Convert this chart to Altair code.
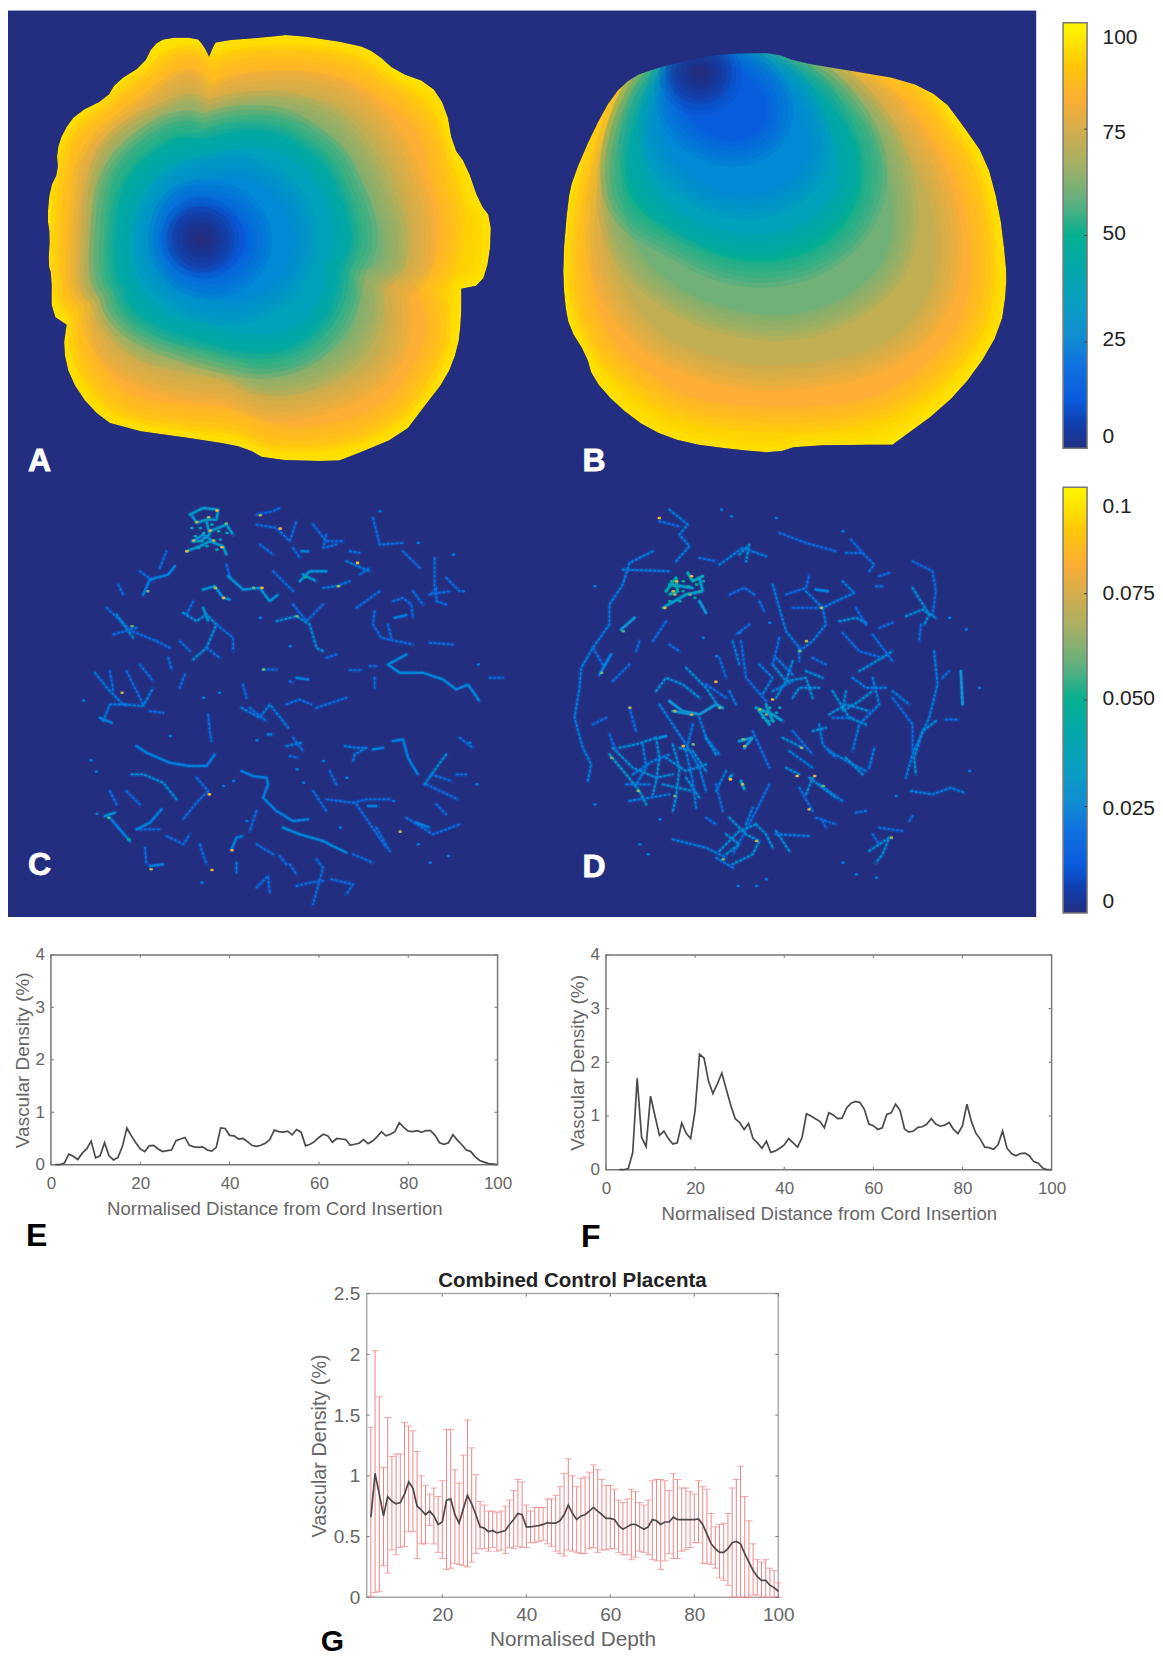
import altair as alt

# ---------- line panels: values ----------
E_X = list(range(1, 101))
E_Y = [0, 0, .03, .2, .16, .1, .22, .3, .45, .13, .17, .42, .17, .09, .14, .35, .7, .55, .42, .3,
       .25, .36, .37, .3, .25, .27, .28, .46, .49, .52, .37, .34, .33, .34, .28, .26, .33, .7, .69, .56,
       .55, .49, .5, .44, .37, .35, .37, .41, .48, .66, .63, .62, .64, .57, .67, .62, .36, .39, .44, .52,
       .58, .55, .43, .5, .49, .48, .37, .39, .41, .48, .4, .45, .53, .63, .55, .58, .63, .8, .71, .64,
       .63, .65, .62, .65, .65, .56, .42, .39, .42, .57, .47, .38, .28, .25, .15, .08, .05, .02, .01, 0]
F_X = list(range(3, 101))
F_Y = [0, 0, .02, .32, 1.7, .6, .43, 1.37, 1.0, .64, .72, .58, .48, .5, .87, .68, .58, 1.1, 2.15, 2.08,
       1.65, 1.42, 1.6, 1.8, 1.5, 1.2, .95, .88, .75, .86, .58, .5, .4, .53, .32, .35, .4, .46, .58, .5,
       .42, .6, 1.04, 1.0, .95, .9, .78, 1.06, 1.02, .95, .96, 1.15, 1.24, 1.27, 1.25, 1.12, .85, .82, .75, .78,
       1.03, 1.06, 1.22, 1.1, .76, .7, .72, .79, .8, .85, .95, .85, .81, .83, .88, .75, .67, .82, 1.22, .9,
       .68, .57, .42, .41, .38, .47, .72, .4, .3, .26, .3, .31, .26, .15, .12, .03, 0, 0]
G_X = list(range(3, 101))
G_MEAN = [.66, 1.02, .85, .67, .83, .79, .77, .78, .85, .95, .9, .75, .72, .68, .71, .67, .6, .62, .8, .81,
          .68, .61, .73, .84, .77, .68, .58, .57, .54, .55, .53, .54, .55, .6, .64, .69, .68, .58, .58, .585,
          .59, .6, .615, .61, .61, .63, .68, .76, .69, .64, .67, .68, .71, .74, .71, .68, .65, .65, .64, .59,
          .56, .58, .6, .6, .58, .56, .58, .64, .63, .6, .62, .62, .66, .64, .64, .64, .64, .64, .645, .6,
          .52, .44, .4, .37, .37, .4, .45, .46, .44, .36, .29, .22, .17, .14, .14, .1, .08, .05]
G_UP = [1.4, 2.03, 1.65, 1.07, 1.48, 1.16, 1.18, 1.18, 1.44, 1.41, 1.37, 1.2, 1.0, .92, .85, .9, .83, .96, 1.38, 1.38,
        1.05, .94, 1.17, 1.46, 1.23, 1.01, .79, .76, .71, .71, .7, .71, .75, .8, .88, .97, .95, .76, .71, .74,
        .74, .74, .81, .81, .84, .91, 1.02, 1.14, 1.0, .91, .98, .99, 1.03, 1.09, 1.05, .97, .92, .92, .89, .8,
        .78, .81, .89, .87, .78, .76, .8, .96, .97, .97, .96, .88, 1.02, .97, .9, .9, .87, .85, .96, .91,
        .89, .69, .58, .6, .61, .69, .9, .97, 1.08, .83, .63, .44, .31, .29, .31, .24, .22, .12]
G_LO = [.01, .04, .05, .26, .2, .39, .35, .41, .42, .54, .54, .32, .44, .44, .59, .44, .37, .32, .23, .24,
        .28, .27, .26, .25, .29, .36, .4, .4, .38, .41, .38, .39, .36, .41, .4, .42, .41, .41, .45, .45,
        .46, .47, .44, .42, .38, .36, .34, .39, .38, .37, .36, .36, .4, .41, .37, .39, .39, .4, .4, .37,
        .35, .35, .31, .33, .38, .37, .35, .31, .3, .23, .3, .36, .32, .32, .38, .39, .41, .45, .45, .28,
        .28, .27, .24, .16, .14, .1, 0, 0, 0, 0, 0, .02, .02, 0, 0, 0, 0, 0]

# ---------- colour ramp of the two colour bars ----------
RAMP_AT = [0, 6, 11, 19, 27, 35, 43, 50, 58, 66, 74, 82, 90, 98, 100]
RAMP = ["#232e80", "#1040b0", "#0a5adc", "#0f70e0", "#1090d0", "#0aa0c0", "#05a8a8", "#05b090",
        "#60b080", "#a0b068", "#cfae50", "#fdae35", "#ffc808", "#fff000", "#fff500"]
BAR1_TICKS = [0, 25, 50, 75, 100]
BAR2_TICKS = [0, 0.025, 0.05, 0.075, 0.1]

A_LEVELS = [
 (100, [628,165,628,165,628,165,640,135,650,118,820,105,870,98,1070,128,1130,155,1190,210,1290,245,1340,320,1360,435,1400,490,1440,605,1475,650,1470,770,1445,850,1385,862,1385,862,1385,950,1375,1040,1340,1130,1270,1220,1210,1300,1040,1370,1010,1380,800,1375,740,1340,640,1320,350,1280,270,1220,210,1130,190,1040,200,970,200,970,155,940,155,820,145,790,150,700,142,650,150,560,175,510,170,450,190,390,230,335,320,290,350,240,430,190,460,130,500,108,590,108,610,130]),
 (92, [628,215,628,215,628,215,660,150,870,135,1060,160,1110,190,1170,250,1270,280,1310,340,1325,450,1370,510,1400,620,1435,670,1430,750,1410,815,1350,830,1350,830,1345,950,1335,1040,1300,1120,1240,1200,1180,1270,1030,1335,810,1340,750,1300,640,1285,360,1245,295,1195,245,1120,228,1040,235,950,190,915,190,820,183,700,185,560,210,520,205,460,225,400,260,360,345,320,380,270,460,220,490,160,590,145]),
 (82, [622,290,622,290,622,290,690,220,870,205,1030,225,1120,280,1210,340,1270,420,1285,520,1320,640,1320,720,1290,815,1240,835,1240,835,1280,950,1270,1030,1230,1110,1170,1190,1050,1260,830,1280,730,1220,560,1210,400,1185,340,1130,290,1060,275,960,300,900,230,880,225,700,235,600,240,510,270,430,340,370,410,310,470,270,530,220,590,200]),
 (72, [618,340,618,340,618,340,720,290,900,280,1020,310,1100,380,1160,460,1200,560,1230,660,1230,740,1215,815,1130,820,1130,820,1160,900,1160,1010,1110,1090,1030,1140,860,1190,760,1170,700,1130,540,1120,400,1070,330,990,310,910,340,870,270,860,280,700,290,570,300,500,350,430,440,370,510,310,570,270]),
 (60, [612,380,612,380,612,380,730,345,860,345,980,390,1040,460,1090,540,1120,620,1150,700,1140,800,1040,800,1040,800,1080,880,1070,960,1020,1040,900,1100,780,1110,700,1060,560,1030,440,1010,360,930,340,860,310,840,320,700,325,570,360,470,430,410,520,370,580,350]),
 (50, [610,415,610,415,720,385,830,390,900,430,980,490,1010,560,1050,650,1060,730,1020,790,1010,870,980,950,900,1030,790,1060,680,1040,570,1010,440,960,375,900,380,860,345,830,345,700,360,570,400,500,470,440,540,400]),
 (37, [610,470,700,440,810,440,900,490,960,560,990,650,1000,730,970,790,970,860,930,940,850,990,750,1000,640,970,530,950,450,900,410,840,395,730,410,620,470,520,540,480]),
 (25, [610,540,720,520,800,560,860,630,880,710,860,800,790,870,690,900,590,880,500,820,470,730,490,640,540,570]),
 (12, [600,610,680,620,730,670,745,730,710,790,640,820,560,800,520,730,530,660,560,620]),
 (6, [600,660,640,675,660,715,635,750,595,755,560,730,565,685]),
 (0, [598,690,620,698,630,715,617,735,592,735,578,715,582,698]),
]
B_LEVELS = [
 (100, [550,160,640,155,740,155,800,180,950,205,1130,235,1240,290,1300,370,1370,470,1410,620,1430,780,1432,860,1415,980,1340,1110,1240,1220,1090,1330,1090,1330,810,1332,740,1355,620,1345,470,1325,360,1285,260,1210,190,1130,170,1060,120,980,105,900,100,780,115,600,130,530,190,390,250,280,310,225,380,200,470,178]),
 (92, [650,157,780,185,950,210,1120,245,1200,300,1265,390,1335,480,1375,630,1395,780,1395,860,1380,970,1310,1080,1210,1190,1060,1290,800,1300,740,1320,620,1310,480,1290,380,1250,290,1180,220,1100,200,1040,155,960,140,890,135,780,150,620,170,540,225,400,280,290,340,225,470,182,550,162]),
 (82, [680,160,790,190,940,215,1090,270,1150,320,1200,400,1270,500,1310,640,1325,780,1320,860,1290,970,1220,1060,1130,1140,1000,1200,800,1220,620,1210,480,1190,380,1130,290,1060,240,1000,205,920,185,820,190,700,210,560,240,440,290,310,350,222,470,185,550,165]),
 (72, [660,165,790,195,900,225,1010,290,1080,370,1140,460,1190,560,1220,680,1220,800,1190,900,1110,1000,980,1060,800,1090,650,1090,500,1050,380,990,300,890,250,780,240,650,260,520,290,380,340,260,390,205,470,188,550,165]),
 (60, [640,168,780,200,880,240,960,310,1030,400,1070,500,1090,600,1090,700,1060,790,990,860,880,920,760,945,620,930,500,890,390,820,320,740,280,640,280,510,310,380,360,260,410,205,480,188,550,165]),
 (50, [640,172,760,205,860,260,940,350,990,440,1000,540,970,640,900,720,800,770,680,785,560,760,440,690,340,640,290,570,290,450,330,320,380,240,430,200,490,185,550,168]),
 (37, [640,178,750,215,830,280,890,370,925,470,920,560,860,640,760,690,650,700,520,670,420,610,360,530,340,440,360,340,400,270,440,210,490,190,550,172]),
 (25, [620,180,720,225,790,300,830,400,830,480,770,550,680,580,570,570,470,510,410,430,400,340,430,260,460,205,500,185,550,175]),
 (12, [610,190,680,240,720,310,700,390,630,420,550,410,480,360,450,290,460,225,500,190,550,180]),
 (6, [555,190,560,225,550,255,510,265,475,250,465,215,490,185]),
 (0, [525,195,532,215,518,230,495,226,485,205,500,192]),
]

C_THIN = [
 (.02,[940,80,960,160,1030,155]),(.018,[590,70,640,60,660,50]),(.02,[590,100,650,110,690,150,710,90]),
 (.02,[760,100,800,150,850,150]),(.02,[800,130,790,170,830,160]),(.02,[870,180,900,185]),(.025,[860,210,930,240]),
 (.025,[790,290,830,285,870,270]),(.02,[1125,200,1125,300,1110,310,1170,300]),(.02,[1130,290,1130,330,1160,340]),
 (.02,[890,350,960,300]),(.02,[1000,330,1030,320,1055,340,1060,380]),(.02,[945,360,940,400,965,440,1010,450,1060,460]),
 (.02,[985,400,995,440]),(.02,[1110,455,1180,460]),(.02,[870,537,905,537]),(.02,[930,525,950,525]),(.02,[945,560,945,590]),
 (.02,[1290,560,1330,560]),(.02,[140,350,215,420,290,450]),(.03,[170,370,220,440]),(.02,[160,430,230,410]),
 (.02,[300,230,320,180]),(.02,[240,240,280,270]),(.02,[175,280,190,310]),
 (.03,[370,365,410,390,440,370,470,400,440,470,400,505]),(.02,[470,400,520,440,520,480]),(.02,[440,470,480,500]),(.02,[360,450,390,480]),
 (.02,[500,220,510,255]),(.03,[650,390,710,375,750,400,770,470,790,480]),(.02,[700,340,740,390,790,340]),(.02,[800,500,830,490]),
 (.02,[610,535,650,535]),(.02,[690,570,700,575]),(.025,[105,545,150,600,190,640,250,645,280,590]),(.025,[130,690,150,640,200,640]),
 (.02,[200,540,250,640]),(.02,[150,540,160,600]),(.02,[270,660,310,665]),(.02,[325,500,335,535]),(.02,[375,550,360,590]),
 (.025,[545,650,600,680,630,640,670,690,685,710]),(.02,[680,640,720,625,755,640]),(.02,[770,650,860,620]),(.02,[570,650,620,690]),
 (.02,[445,670,450,720,455,750]),(.025,[680,765,725,755]),(.02,[700,740,730,780]),(.02,[690,795,715,800]),
 (.025,[855,765,890,770,920,770,885,790,880,810]),(.03,[1095,880,1130,830,1160,790]),(.02,[1115,850,1175,870]),(.02,[1100,880,1195,925]),
 (.02,[1190,850,1220,850]),(.02,[800,925,880,935,920,925,990,925]),(.02,[890,940,980,1070]),(.02,[1040,980,1120,1030,1200,1000]),
 (.02,[320,1035,370,1060,390,1030]),(.02,[255,1070,260,1120]),(.025,[530,1115,530,1145]),(.02,[660,1095,680,1120]),
 (.02,[590,1190,625,1155,630,1205]),(.02,[710,1185,750,1175,790,1170]),(.02,[815,1165,880,1180,860,1210]),(.02,[770,1105,790,1130,760,1240]),
 (.02,[880,1090,940,1115]),(.02,[410,860,445,900,410,935,370,985]),(.03,[215,850,250,850,310,875,350,925]),(.02,[240,1015,300,1015]),
 (.02,[600,160,640,190]),(.02,[700,170,720,200]),(.02,[640,240,700,300]),(.02,[900,250,930,230]),(.02,[1030,180,1080,230]),(.02,[1160,260,1200,300]),
 (.02,[290,450,330,470]),(.02,[240,520,280,570]),(.02,[550,580,560,620]),(.02,[810,840,830,880]),(.02,[1200,740,1240,770]),(.02,[760,900,800,960]),
 (.02,[590,1060,640,1090]),(.02,[420,1060,440,1120]),(.02,[200,900,240,940]),(.02,[150,900,170,940]),(.02,[950,1010,990,1080]),(.02,[1130,940,1160,970]),
 (.02,[590,960,570,1020]),(.02,[690,1120,710,1150]),(.02,[380,370,400,330]),(.02,[1060,300,1090,340]),
]
C_THICK = [
 (.035,[390,70,430,50,475,55,470,85,440,85,410,95,395,70]),(.035,[440,90,450,130,420,150,395,150]),(.035,[450,120,500,100,520,130]),
 (.035,[380,180,420,165,450,150,490,165,500,190]),(.03,[400,150,430,130,460,150]),(.025,[725,180,745,180]),
 (.03,[720,270,750,240,800,240]),(.03,[730,250,770,270]),(.025,[1005,380,1040,372]),
 (.027,[1040,490,985,520,1020,545,1090,545,1150,565,1190,595,1225,580,1260,630]),
 (.025,[250,310,270,265,325,250,345,225]),(.03,[430,350,445,390]),(.03,[430,295,465,285,490,320,510,325]),
 (.03,[505,255,550,295,600,290,630,330,655,310]),(.025,[710,560,745,565]),(.025,[120,680,155,695]),(.025,[625,730,640,730]),
 (.025,[230,765,260,785,330,815,390,825,440,825,465,790]),
 (.025,[545,840,580,855,620,860,625,880,610,920,650,960,700,990,745,985]),(.027,[670,1010,720,1030,790,1050,860,1085]),
 (.025,[940,775,970,770]),(.025,[1000,750,1030,745,1045,800,1075,850]),(.025,[925,945,955,945]),(.025,[1070,995,1110,1010]),
 (.03,[135,975,165,965]),(.025,[145,975,210,1050]),(.025,[230,1015,270,995,305,955]),(.025,[270,1125,310,1120]),(.025,[515,1075,530,1040,550,1035]),
]
C_DOTS = [(.07,410,92),(.08,470,58),(.07,445,78),(.075,450,118),(.07,400,148),(.07,460,148),(.08,380,180),(.08,485,168),(.06,498,97),
 (.08,660,112),(.07,600,72),(.085,892,215),(.06,215,405),(.06,262,300),(.07,465,290),(.08,490,320),(.08,605,290),(.06,580,290),
 (.07,835,285),(.06,710,375),(.05,735,258),(.085,447,910),(.08,455,1137),(.07,1020,1022),(.08,515,1078),(.055,145,980),(.05,205,1045),
 (.07,272,1135),(.07,185,605),(.06,610,535),
 (.04,420,110),(.04,430,125),(.045,405,135),(.04,475,120),(.04,440,165),(.035,415,170),(.04,500,125),(.035,395,110),(.04,455,100),(.03,480,145),(.04,425,150),(.035,470,175),
 (.02,70,628),(.02,92,808),(.02,108,842),(.02,110,968),(.02,430,620),(.02,478,605),(.02,330,735),(.02,590,748),(.02,710,835),(.02,790,810),
 (.02,860,860),(.02,730,875),(.02,520,870),(.02,490,885),(.02,840,1010),(.02,1110,1115),(.02,1165,1095),(.02,1230,755),(.02,1250,880),(.02,1180,190),
 (.02,1210,300),(.02,1255,520),(.02,1075,155),(.02,960,60),(.02,560,990),(.02,425,1175),(.02,600,380),(.02,690,465),(.02,1000,930),(.02,1075,1060)]

D_THIN = [
 (.025,[280,180,210,215,190,280,150,340,150,400,100,470,65,530,60,590,45,680,70,770,95,820,85,870]),(.025,[190,235,330,240]),
 (.025,[330,55,385,100,360,130,390,165,350,210]),(.02,[300,90,360,105]),(.02,[160,570,210,520]),
 (.025,[480,220,550,170,620,195]),(.03,[540,190,570,160,560,210]),(.02,[420,200,470,210]),
 (.02,[660,125,740,155,830,180]),(.02,[860,185,910,185,945,220,930,240]),(.02,[875,145,910,185]),
 (.02,[1060,210,1120,240,1130,300,1120,370]),(.03,[1060,290,1110,370,1095,400]),(.03,[1040,375,1090,355,1130,380]),(.02,[1085,400,1080,450]),
 (.02,[960,255,990,245]),(.02,[950,285,970,285]),(.025,[640,280,680,420,720,470]),(.025,[740,300,790,350,830,330,885,305]),
 (.025,[790,350,800,400,760,450,720,480]),(.02,[680,310,740,290,750,250]),(.02,[700,350,780,350]),(.02,[600,330,615,360]),(.02,[510,310,555,290,585,310]),
 (.03,[840,390,890,380,920,395]),(.02,[850,425,900,480,970,500]),(.03,[900,540,960,505,1000,480]),(.02,[960,410,1000,395]),(.02,[940,430,1000,510]),
 (.025,[1125,480,1135,580,1110,680,1060,790,1040,860]),(.03,[1130,690,1090,720,1065,800,1070,850]),(.02,[1000,620,1060,700,1060,780]),(.02,[1160,685,1195,685]),
 (.02,[1150,560,1170,540]),(.025,[1055,900,1120,910,1175,890,1215,905]),(.02,[545,450,560,560,620,630]),
 (.03,[640,520,680,570,650,620]),(.03,[700,510,680,570,740,560,760,620]),(.03,[740,540,790,560]),(.025,[640,600,700,570]),(.02,[720,470,720,510]),
 (.03,[810,670,860,640,930,660]),(.03,[860,600,850,660,900,630,940,600]),(.025,[880,560,920,590,980,590]),(.025,[1000,600,1050,640]),(.02,[820,680,880,680]),
 (.03,[290,600,320,560,370,580,420,620]),(.03,[380,530,440,590,480,650]),(.025,[420,680,440,740,480,790]),(.025,[510,600,530,640]),
 (.02,[580,720,630,830]),(.03,[670,740,730,770]),(.02,[700,720,760,790]),(.03,[760,720,800,710]),(.025,[810,780,880,820,920,840]),(.03,[860,800,910,850]),(.025,[930,830,945,770]),
 (.035,[150,790,200,850,240,900,260,940]),(.03,[160,770,220,830,290,860,340,850]),(.03,[290,740,300,800,290,870,280,910]),(.03,[340,760,360,830,350,920,340,960]),
 (.03,[360,770,400,780,440,840]),(.025,[210,930,330,910]),(.03,[380,860,420,920]),(.025,[200,880,270,880]),(.03,[440,740,470,790]),(.02,[470,880,490,960]),
 (.03,[680,830,720,850]),(.03,[750,860,790,890,830,920]),(.03,[740,910,760,860]),(.02,[720,890,760,960]),(.025,[780,880,850,930]),
 (.02,[630,880,590,960,520,1090]),(.03,[510,980,560,1030,600,1050,580,1090,520,1120]),(.03,[480,1080,540,1020,590,1000]),(.025,[340,1045,440,1070,500,1100]),
 (.03,[650,1020,690,1080]),(.025,[650,1030,750,1035]),(.03,[930,1080,990,1040,970,1090,950,1115]),(.02,[960,1010,1030,1020]),
 (.02,[1050,990,1060,975]),(.02,[790,990,800,1010]),(.02,[890,965,920,960]),
 (.025,[300,640,340,700,380,760,420,830,440,900]),(.025,[250,760,260,830,230,880]),(.03,[180,770,230,760,290,740]),(.025,[400,700,380,780,400,870,410,950]),
 (.03,[320,800,380,840,440,820]),(.025,[220,850,280,810,330,790]),(.03,[310,880,400,900]),(.025,[500,840,470,900]),(.02,[150,730,170,780]),(.02,[210,650,230,720]),
 (.025,[600,520,640,560,610,610]),(.025,[650,500,700,550]),(.02,[760,500,800,520]),(.03,[700,620,720,590,780,590]),(.025,[780,700,790,760,830,800]),
 (.03,[820,600,870,680,920,700]),(.025,[940,560,960,640,900,700,880,780]),(.025,[690,780,760,830]),(.03,[590,1000,620,1030,640,1070]),(.03,[500,1030,540,1060,500,1090]),
 (.025,[470,1100,520,1130]),(.025,[560,1000,580,950]),(.02,[440,980,470,1000]),(.02,[770,980,830,1000]),(.02,[940,1030,960,1060]),(.025,[520,450,540,520]),
 (.02,[480,500,500,560]),(.02,[440,580,500,620]),(.02,[330,460,360,480]),(.02,[280,450,300,420,320,390]),(.02,[240,450,230,480]),(.02,[100,700,140,680]),
 (.02,[100,470,130,520]),(.025,[850,270,880,300]),(.02,[890,350,920,400]),(.02,[660,440,640,520]),(.02,[570,400,530,430]),
]
D_THICK = [
 (.05,[320,300,350,260,355,300,330,310]),(.045,[385,245,400,270,430,255]),(.035,[310,350,380,310,430,300,420,260]),(.035,[330,280,400,290]),(.03,[420,330,440,365]),
 (.03,[185,415,225,380]),(.025,[120,550,155,490]),(.025,[770,295,805,300]),(.03,[1205,540,1210,640]),
 (.035,[590,650,640,670,670,690]),(.035,[620,640,640,690]),(.035,[600,660,630,700]),(.03,[330,630,370,660,420,670,470,640,490,650]),(.03,[340,660,400,670]),
 (.03,[540,750,580,740,555,770]),(.027,[300,740,320,735]),(.03,[510,860,520,850]),(.035,[545,870,555,895]),
]
D_DOTS = [(.085,298,80),(.08,350,270),(.075,340,300),(.08,395,255),(.08,315,350),(.07,345,310),(.06,390,310),(.055,190,420),(.06,125,545),(.085,468,572),
 (.07,600,655),(.06,620,670),(.08,638,625),(.06,720,480),(.07,740,450),(.07,345,660),(.07,395,670),(.08,370,765),(.06,400,760),(.06,155,800),
 (.085,512,865),(.07,548,880),(.07,555,765),(.06,550,745),(.085,712,855),(.08,765,855),(.06,790,885),(.07,748,955),(.07,590,1050),(.06,490,1105),
 (.065,235,900),(.06,345,915),(.065,725,770),(.07,785,350),(.065,995,1040),(.07,210,650),(.06,480,650),
 (.05,335,270),(.05,345,285),(.045,370,300),(.05,410,280),(.045,420,300),(.04,360,330),(.045,330,330),(.04,405,320),(.05,370,270),(.045,385,285),(.04,430,270),
 (.04,610,660),(.04,630,650),(.035,650,665),(.04,640,690),(.035,610,680),(.04,625,690),(.035,660,650),
 (.02,105,285),(.02,105,940),(.02,485,55),(.02,515,75),(.02,650,80),(.02,850,120),(.02,1220,415),(.02,1260,590),(.02,1230,840),(.02,240,1060),(.02,265,1090),
 (.02,535,1185),(.02,590,1185),(.02,620,1165),(.02,890,1150),(.02,950,1160),(.02,850,1115),(.02,1010,915),(.02,300,985),(.02,430,440),(.02,470,495),(.02,540,425),(.02,630,395),(.02,1170,380)]

LETTERS = [("A", 20, 461), ("B", 575, 461), ("C", 20, 865), ("D", 575, 867)]

# ---------- geometry of the picture panel ----------
PANEL_W, PANEL_H = 1029, 907
A_ORIGIN, B_ORIGIN, C_ORIGIN, D_ORIGIN = (-8, -9), (522, -9), (52, 481), (552, 481)
HALOS = [(52, .2), (42, .2), (32, .22), (22, .24), (12, .26), (5, .3)]


def ring(flat, origin, rounds=2):
    pts = [[flat[i] / 3 + origin[0], flat[i + 1] / 3 + origin[1]] for i in range(0, len(flat), 2)]
    # round the corners of the traced outline so it does not read as a polygon
    for _ in range(rounds):
        rounded = []
        for a, b in zip(pts, pts[1:] + pts[:1]):
            rounded.append([a[0] * .75 + b[0] * .25, a[1] * .75 + b[1] * .25])
            rounded.append([a[0] * .25 + b[0] * .75, a[1] * .25 + b[1] * .75])
        pts = rounded
    return pts + [pts[0]]


def area(r):
    return sum(a[0] * b[1] - b[0] * a[1] for a, b in zip(r, r[1:])) / 2


def poly(coords, level, sw=0, so=0, fo=1):
    return {"type": "Feature", "geometry": {"type": "Polygon", "coordinates": coords},
            "properties": {"level": level, "sw": sw, "so": so, "fo": fo}}


def map_features(levels, origin):
    out = []
    for i, (lev, flat) in enumerate(levels):
        r = ring(flat, origin, 1 if i == 0 else 2)
        if i:
            for w, o in HALOS:
                out.append(poly([r], lev, w, o, 0))
        out.append(poly([r], lev))
    return out


def line_feat(v, flat, origin, width, gain=1000):
    pts = [[flat[i] / 3 + origin[0], flat[i + 1] / 3 + origin[1]] for i in range(0, len(flat), 2)]
    return {"type": "Feature", "geometry": {"type": "LineString", "coordinates": pts},
            "properties": {"level": v * gain, "sw": width}}


frame = [[0, 0], [PANEL_W, 0], [PANEL_W, PANEL_H], [0, PANEL_H], [0, 0]]
hole_a, hole_b = ring(A_LEVELS[0][1], A_ORIGIN, 1), ring(B_LEVELS[0][1], B_ORIGIN, 1)
if area(frame) * area(hole_a) > 0:
    hole_a = hole_a[::-1]
if area(frame) * area(hole_b) > 0:
    hole_b = hole_b[::-1]

map_feats = [poly([frame], 0)] + map_features(A_LEVELS, A_ORIGIN) + map_features(B_LEVELS, B_ORIGIN)
map_feats.append(poly([frame, hole_a, hole_b], 0))

thin = [line_feat(v, f, C_ORIGIN, 1.9, 850) for v, f in C_THIN] + [line_feat(v, f, D_ORIGIN, 1.9, 850) for v, f in D_THIN]
thick = [line_feat(v, f, C_ORIGIN, 2.4, 880) for v, f in C_THICK] + [line_feat(v, f, D_ORIGIN, 2.8, 900) for v, f in D_THICK]
glow = [line_feat(v, f, C_ORIGIN, 4.5, 800) for v, f in C_THIN + C_THICK] + [line_feat(v, f, D_ORIGIN, 4.5, 800) for v, f in D_THIN + D_THICK]
dots = [line_feat(v, [x, y, x + 3, y], C_ORIGIN, 2.6) for v, x, y in C_DOTS] + \
       [line_feat(v, [x, y, x + 3, y], D_ORIGIN, 2.6) for v, x, y in D_DOTS]

ramp_scale = alt.Scale(domain=RAMP_AT, range=RAMP, clamp=True)

maps = alt.Chart(alt.Data(values=map_feats)).mark_geoshape(strokeJoin="round").encode(
    color=alt.Color("properties.level:Q", scale=ramp_scale, legend=None),
    stroke=alt.Stroke("properties.level:Q", scale=ramp_scale, legend=None),
    strokeWidth=alt.StrokeWidth("properties.sw:Q", scale=None),
    strokeOpacity=alt.StrokeOpacity("properties.so:Q", scale=None),
    fillOpacity=alt.FillOpacity("properties.fo:Q", scale=None),
).project(type="identity")


def vessel_layer(feats, **kw):
    return alt.Chart(alt.Data(values=feats)).mark_geoshape(filled=False, strokeCap="round", strokeJoin="round", **kw).encode(
        stroke=alt.Stroke("properties.level:Q", scale=ramp_scale, legend=None),
        strokeWidth=alt.StrokeWidth("properties.sw:Q", scale=None),
    ).project(type="identity")


letter_layers = [
    alt.Chart(alt.Data(values=[{"t": t}])).mark_text(
        font="Liberation Sans", fontWeight="bold", fontSize=32, color="white", align="left", baseline="alphabetic",
        stroke="white", strokeWidth=0.8,
    ).encode(text="t:N", x=alt.value(x), y=alt.value(y))
    for t, x, y in LETTERS
]
panel = alt.layer(maps, vessel_layer(glow, opacity=.28), vessel_layer(thin, strokeDash=[1.8, 2.6]),
                  vessel_layer(thick, strokeDash=[3, 2]), vessel_layer(dots),
                  *letter_layers).properties(width=PANEL_W, height=PANEL_H)


# ---------- colour bars ----------
def colour_bar(ticks, labels, height, offs, size):
    top = ticks[-1]
    stops = [alt.GradientStop(offset=a / 100, color=c) for a, c in zip(RAMP_AT, RAMP)]
    grad = alt.LinearGradient(gradient="linear", stops=stops, x1=0, x2=0, y1=1, y2=0)
    sc = alt.Scale(domain=[0, top], nice=False)
    expr = " : ".join(f"datum.value == {t} ? '{l}'" for t, l in zip(ticks, labels)) + " : ''"
    tests = [{"test": f"datum.value == {t}", "value": o} for t, o in zip(ticks, offs)]
    axis = alt.Axis(orient="right", values=ticks, title=None, ticks=False, domain=False, grid=False,
                    labelExpr=expr, labelFont="Liberation Sans", labelFontSize=size, labelColor="#222222",
                    labelPadding=15, labelOverlap=False, labelOffset={"condition": tests, "value": 0})
    rect = alt.Chart(alt.Data(values=[{"a": 0, "b": top}])).mark_rect(
        fill=grad, stroke="#777777", strokeWidth=1.5).encode(
        y=alt.Y("a:Q", scale=sc, axis=axis), y2="b:Q", x=alt.value(0), x2=alt.value(24))
    marks = alt.Chart(alt.Data(values=[{"t": t} for t in ticks[1:-1]])).mark_rule(color="#444444", strokeWidth=1).encode(
        y=alt.Y("t:Q", scale=sc, axis=axis), x=alt.value(21), x2=alt.value(24))
    return alt.layer(rect, marks).properties(width=24, height=height)


bar1 = colour_bar(BAR1_TICKS, ["0", "25", "50", "75", "100"], 426, [-12, -2, -2, 3, 15], 21)
bar2 = colour_bar(BAR2_TICKS, ["0", "0.025", "0.050", "0.075", "0.1"], 426, [-11, 2, -2, 0, 19], 21)


def spacer(w, h):
    return alt.Chart(alt.Data(values=[{"a": 0}])).mark_rect(opacity=0).encode(
        x=alt.value(0), x2=alt.value(w), y=alt.value(0), y2=alt.value(h)).properties(width=w, height=h)


bars = alt.vconcat(spacer(24, 1), alt.vconcat(bar1, bar2, spacing=37), spacing=10)
top_row = alt.hconcat(panel, bars, spacing=26)


# ---------- line panels ----------
def box_ticks(xt, yt, sx, sy, w, h, xax, yax, n=3):
    xd = alt.Data(values=[{"t": t} for t in xt])
    yd = alt.Data(values=[{"t": t} for t in yt])
    c = "#777777"
    return [
        alt.Chart(xd).mark_rule(color=c).encode(x=alt.X("t:Q", scale=sx, axis=xax), y=alt.value(0), y2=alt.value(n)),
        alt.Chart(xd).mark_rule(color=c).encode(x=alt.X("t:Q", scale=sx, axis=xax), y=alt.value(h - n), y2=alt.value(h)),
        alt.Chart(yd).mark_rule(color=c).encode(y=alt.Y("t:Q", scale=sy, axis=yax), x=alt.value(0), x2=alt.value(n)),
        alt.Chart(yd).mark_rule(color=c).encode(y=alt.Y("t:Q", scale=sy, axis=yax), x=alt.value(w - n), x2=alt.value(w)),
    ]


def ax(vals, title, lab, tit, **kw):
    return alt.Axis(values=vals, title=title, grid=False, ticks=False, domain=False, labelFont="Liberation Sans",
                    titleFont="Liberation Sans", labelFontSize=lab, titleFontSize=tit, labelColor="#666666",
                    titleColor="#666666", titleFontWeight="normal", labelOverlap=False, labelFlush=False, **kw)


def density(xs, ys, w, h, letter, lx, ly):
    sx = alt.Scale(domain=[0, 100], nice=False)
    sy = alt.Scale(domain=[0, 4], nice=False)
    xt, yt = [0, 20, 40, 60, 80, 100], [0, 1, 2, 3, 4]
    xax = ax(xt, "Normalised Distance from Cord Insertion", 17, 18.6, labelPadding=11, titlePadding=8)
    yax = ax(yt, "Vascular Density (%)", 17, 19, labelPadding=6.5, titlePadding=3)
    data = alt.Data(values=[{"x": a, "y": b} for a, b in zip(xs, ys)])
    line = alt.Chart(data).mark_line(color="#4a4a4a", strokeWidth=1.7).encode(
        x=alt.X("x:Q", scale=sx, axis=xax), y=alt.Y("y:Q", scale=sy, axis=yax))
    txt = alt.Chart(alt.Data(values=[{"t": letter}])).mark_text(
        font="Liberation Sans", fontWeight="bold", fontSize=32, color="black", align="left", baseline="alphabetic",
    ).encode(text="t:N", x=alt.value(lx), y=alt.value(ly))
    return alt.layer(line, *box_ticks(xt, yt, sx, sy, w, h, xax, yax), txt).properties(
        width=w, height=h, view=alt.ViewBackground(stroke="#777777", strokeWidth=1.5))


panel_e = density(E_X, E_Y, 447, 210, "E", -25, 291)
panel_f = density(F_X, F_Y, 446, 215, "F", -25, 292)
mid_row = alt.hconcat(spacer(1, 1), alt.hconcat(panel_e, panel_f, spacing=54.5), spacing=3)

g_sx = alt.Scale(domain=[2, 100], nice=False)
g_sy = alt.Scale(domain=[0, 2.5], nice=False)
g_xt, g_yt = [20, 40, 60, 80, 100], [0, .5, 1, 1.5, 2, 2.5]
g_xax = ax(g_xt, "Normalised Depth", 19, 20.8, labelPadding=8, titlePadding=5)
g_yax = ax(g_yt, "Vascular Density (%)", 19, 19.8, labelPadding=7, titlePadding=4,
           labelExpr="datum.value == 0 ? '0' : datum.value == 1 ? '1' : datum.value == 2 ? '2' : format(datum.value, '.1f')")
g_data = alt.Data(values=[{"x": a, "m": b, "u": c, "l": d} for a, b, c, d in zip(G_X, G_MEAN, G_UP, G_LO)])
RED = "#ee8585"
g_bars = alt.Chart(g_data).mark_rule(color=RED, strokeWidth=1).encode(
    x=alt.X("x:Q", scale=g_sx, axis=g_xax), y=alt.Y("l:Q", scale=g_sy, axis=g_yax), y2="u:Q")
g_top = alt.Chart(g_data).mark_tick(color=RED, orient="horizontal", size=7, thickness=1).encode(
    x=alt.X("x:Q", scale=g_sx, axis=g_xax), y=alt.Y("u:Q", scale=g_sy, axis=g_yax))
g_low = alt.Chart(g_data).mark_tick(color=RED, orient="horizontal", size=7, thickness=1).encode(
    x=alt.X("x:Q", scale=g_sx, axis=g_xax), y=alt.Y("l:Q", scale=g_sy, axis=g_yax))
g_line = alt.Chart(g_data).mark_line(color="#4a4a4a", strokeWidth=1.7).encode(
    x=alt.X("x:Q", scale=g_sx, axis=g_xax), y=alt.Y("m:Q", scale=g_sy, axis=g_yax))
g_letter = alt.Chart(alt.Data(values=[{"t": "G"}])).mark_text(
    font="Liberation Sans", fontWeight="bold", fontSize=30, color="black", align="left", baseline="alphabetic",
).encode(text="t:N", x=alt.value(-46), y=alt.value(358))
panel_g = alt.layer(g_bars, g_top, g_low, g_line, *box_ticks(g_xt, g_yt, g_sx, g_sy, 412, 304, g_xax, g_yax), g_letter).properties(
    width=412, height=304, view=alt.ViewBackground(stroke="#aaaaaa", strokeWidth=1.5),
    title=alt.TitleParams("Combined Control Placenta", font="Liberation Sans", fontSize=20.5, fontWeight="bold",
                          color="#222222", offset=-7, anchor="middle"))
low_row = alt.hconcat(spacer(296, 1), panel_g, spacing=4)

upper = alt.vconcat(top_row, mid_row, spacing=28)
chart = alt.vconcat(upper, low_row, spacing=16).properties(
    padding={"left": 0, "right": 0, "top": 1, "bottom": 0}, background="white").configure_view(strokeWidth=0)
chart.save("out.html", embed_options={"renderer": "svg", "actions": False})
